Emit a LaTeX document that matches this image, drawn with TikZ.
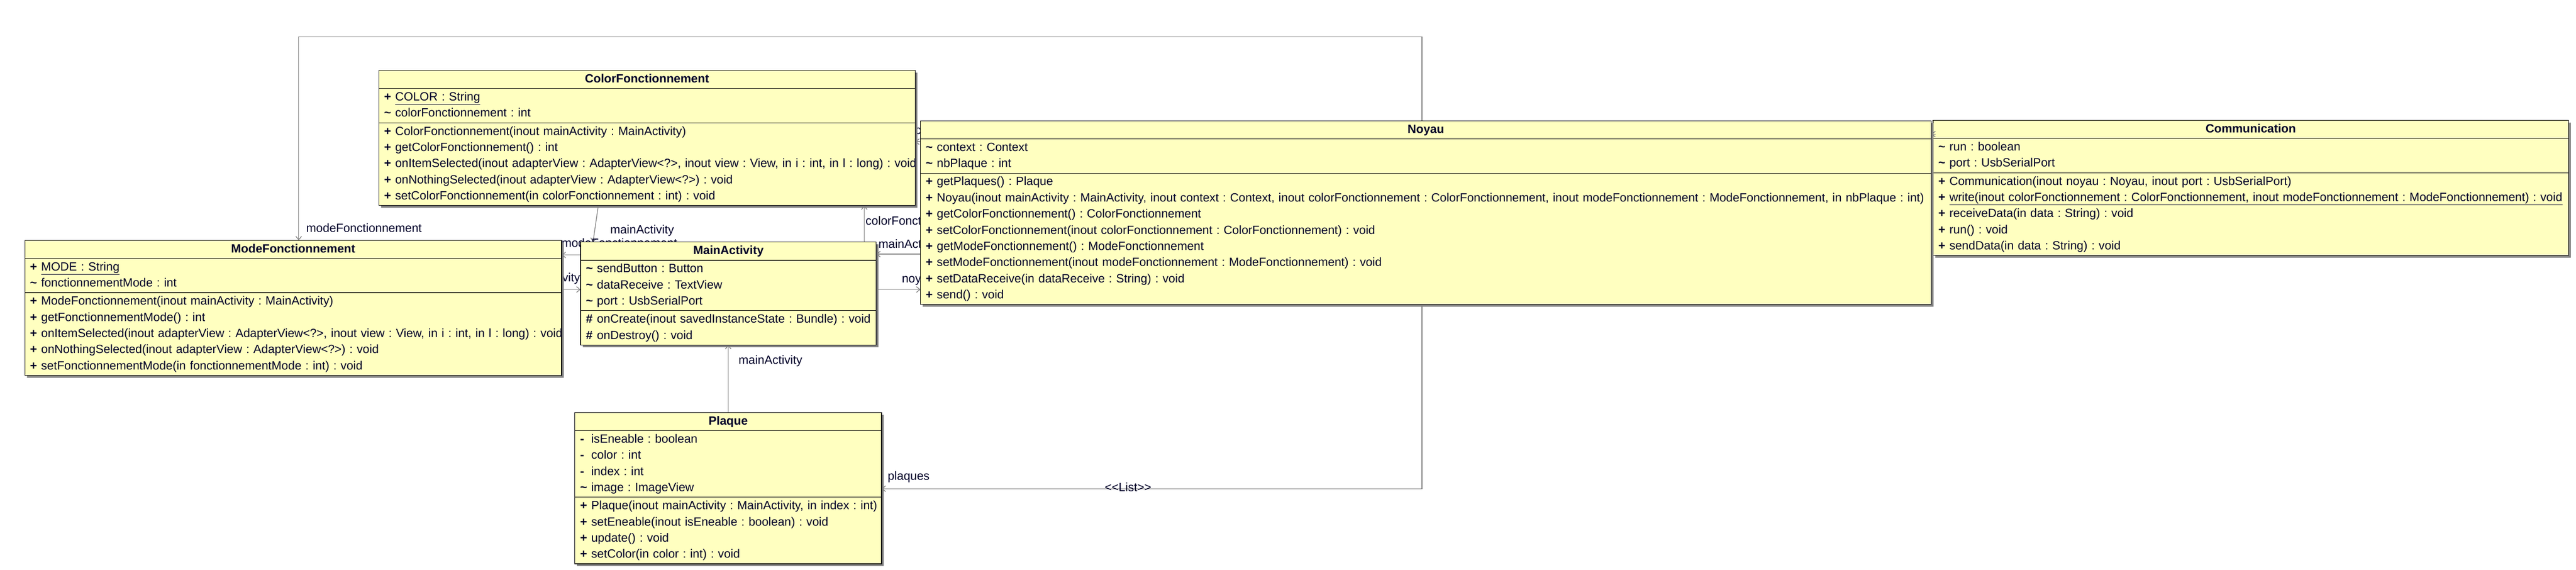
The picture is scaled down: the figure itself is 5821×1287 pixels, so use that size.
\documentclass[tikz,border=0pt]{standalone}
\usepackage{fontspec}
\setmainfont{Liberation Sans}
\usetikzlibrary{arrows.meta,shapes.multipart,shadows,backgrounds}
\definecolor{classfill}{RGB}{255,255,192}
\definecolor{inkblue}{RGB}{0,0,40}
\definecolor{linegray}{RGB}{128,128,128}
\newcommand{\member}[2]{\mbox{\makebox[12.5pt][l]{\textbf{#1}}#2}\strut}
\newcommand{\classtitle}[1]{\makebox[\linewidth]{\textbf{#1}}\strut}
\frenchspacing

\begin{document}
\begin{tikzpicture}[x=0.5pt,y=-0.5pt,
 umlclass/.style={rectangle split,rectangle split parts=3,draw=black,line width=0.7pt,
  fill=classfill,text=inkblue,anchor=north west,inner xsep=6pt,inner ysep=0.75pt,outer sep=0pt,
  align=left,font=\fontsize{13.5}{18.25}\selectfont,
  drop shadow={shadow xshift=2.5pt,shadow yshift=-2.5pt,fill=linegray,opacity=1}},
 assoc/.style={draw=linegray,line width=0.8pt,-{Straight Barb[length=4pt,width=6.5pt]}},
 role/.style={inner sep=0pt,outer sep=0pt,text=inkblue,font=\fontsize{13.5}{18.25}\selectfont}]
 \useasboundingbox (0,0) rectangle (5821,1287);

 % classes
 \node[umlclass,text width=594pt] (colorf) at (856,159) {\classtitle{ColorFonctionnement}
  \nodepart{second}\member{+}{\underline{COLOR : String}}\\
  \member{\textasciitilde}{colorFonctionnement : int}
  \nodepart{third}\member{+}{ColorFonctionnement(inout mainActivity : MainActivity)}\\
  \member{+}{getColorFonctionnement() : int}\\
  \member{+}{onItemSelected(inout adapterView : AdapterView<?>, inout view : View, in i : int, in l : long) : void}\\
  \member{+}{onNothingSelected(inout adapterView : AdapterView<?>) : void}\\
  \member{+}{setColorFonctionnement(in colorFonctionnement : int) : void}};
 \node[umlclass,text width=594.5pt] (mode) at (56,543) {\classtitle{ModeFonctionnement}
  \nodepart{second}\member{+}{\underline{MODE : String}}\\
  \member{\textasciitilde}{fonctionnementMode : int}
  \nodepart{third}\member{+}{ModeFonctionnement(inout mainActivity : MainActivity)}\\
  \member{+}{getFonctionnementMode() : int}\\
  \member{+}{onItemSelected(inout adapterView : AdapterView<?>, inout view : View, in i : int, in l : long) : void}\\
  \member{+}{onNothingSelected(inout adapterView : AdapterView<?>) : void}\\
  \member{+}{setFonctionnementMode(in fonctionnementMode : int) : void}};
 \node[umlclass,text width=322pt] (mainact) at (1312,547) {\classtitle{MainActivity}
  \nodepart{second}\member{\textasciitilde}{sendButton : Button}\\
  \member{\textasciitilde}{dataReceive : TextView}\\
  \member{\textasciitilde}{port : UsbSerialPort}
  \nodepart{third}\member{\#}{onCreate(inout savedInstanceState : Bundle) : void}\\
  \member{\#}{onDestroy() : void}};
 \node[umlclass,text width=706pt] (comm) at (4368,272) {\classtitle{Communication}
  \nodepart{second}\member{\textasciitilde}{run : boolean}\\
  \member{\textasciitilde}{port : UsbSerialPort}
  \nodepart{third}\member{+}{Communication(inout noyau : Noyau, inout port : UsbSerialPort)}\\
  \member{+}{\underline{write(inout colorFonctionnement : ColorFonctionnement, inout modeFonctionnement : ModeFonctionnement) : void}}\\
  \member{+}{receiveData(in data : String) : void}\\
  \member{+}{run() : void}\\
  \member{+}{sendData(in data : String) : void}};
 \node[umlclass,text width=1130pt] (noyau) at (2080,273) {\classtitle{Noyau}
  \nodepart{second}\member{\textasciitilde}{context : Context}\\
  \member{\textasciitilde}{nbPlaque : int}
  \nodepart{third}\member{+}{getPlaques() : Plaque}\\
  \member{+}{Noyau(inout mainActivity : MainActivity, inout context : Context, inout colorFonctionnement : ColorFonctionnement, inout modeFonctionnement : ModeFonctionnement, in nbPlaque : int)}\\
  \member{+}{getColorFonctionnement() : ColorFonctionnement}\\
  \member{+}{setColorFonctionnement(inout colorFonctionnement : ColorFonctionnement) : void}\\
  \member{+}{getModeFonctionnement() : ModeFonctionnement}\\
  \member{+}{setModeFonctionnement(inout modeFonctionnement : ModeFonctionnement) : void}\\
  \member{+}{setDataReceive(in dataReceive : String) : void}\\
  \member{+}{send() : void}};
 \node[umlclass,text width=334.5pt] (plaque) at (1299,932) {\classtitle{Plaque}
  \nodepart{second}\member{-}{isEneable : boolean}\\
  \member{-}{color : int}\\
  \member{-}{index : int}\\
  \member{\textasciitilde}{image : ImageView}
  \nodepart{third}\member{+}{Plaque(inout mainActivity : MainActivity, in index : int)}\\
  \member{+}{setEneable(inout isEneable : boolean) : void}\\
  \member{+}{update() : void}\\
  \member{+}{setColor(in color : int) : void}};

 % associations with role names, behind the classes
 \coordinate (topright) at (3213,83);
 \coordinate (topleft) at (675,83);
 \coordinate (lowright) at (3213,1104);
 \coordinate (commtip) at (4374,303);
 \begin{scope}[on background layer]
 \draw[assoc] (noyau.north -| topright) -- (topright) -- (topleft) -- (mode.north -| topleft);
 \node[role,anchor=base west] (rmode1) at (692,525) {modeFonctionnement};
 \draw[assoc] (noyau.south -| lowright) -- (lowright) -- (plaque.east |- lowright);
 \node[role,anchor=base west] (rplaques) at (2006,1085) {plaques};
 \node[role,anchor=base] (rlist) at (2549,1110) {<\kern0pt<List>\kern0pt>};
 \draw[assoc] (colorf.south -| 1352,0) -- (mainact.north -| 1340,0);
 \node[role,anchor=base west] (rmain1) at (1379,528) {mainActivity};
 \draw[assoc] (mainact.west |- 0,576) -- (mode.east |- 0,576);
 \node[role,anchor=base west] (rmode2) at (1269,558) {modeFonctionnement};
 \draw[assoc] (mode.east |- 0,654) -- (mainact.west |- 0,654);
 \node[role,anchor=base east] (rmain2) at (1311,636) {mainActivity};
 \draw[assoc] (mainact.north -| 1953,0) -- (colorf.south -| 1953,0);
 \node[role,anchor=base west] (rcolor1) at (1956,508) {colorFonctionnement};
 \draw[assoc] (noyau.west |- 0,574) -- (mainact.east |- 0,574);
 \node[role,anchor=base west] (rmain3) at (1985,560) {mainActivity};
 \draw[assoc] (mainact.east |- 0,654) -- (noyau.west |- 0,654);
 \node[role,anchor=base west] (rnoyau) at (2038,638) {noyau};
 \draw[assoc] (noyau.west |- 0,320) -- (colorf.east |- 0,320);
 \node[role,anchor=base west] (rcolor2) at (2068,303) {colorFonctionnement};
 \draw[assoc] (plaque.north) -- (plaque.north |- mainact.south);
 \node[role,anchor=base west] (rmain4) at (1669,823) {mainActivity};
 \end{scope}
 \draw[assoc] (commtip) -- (noyau.east |- commtip);
\end{tikzpicture}
\end{document}
